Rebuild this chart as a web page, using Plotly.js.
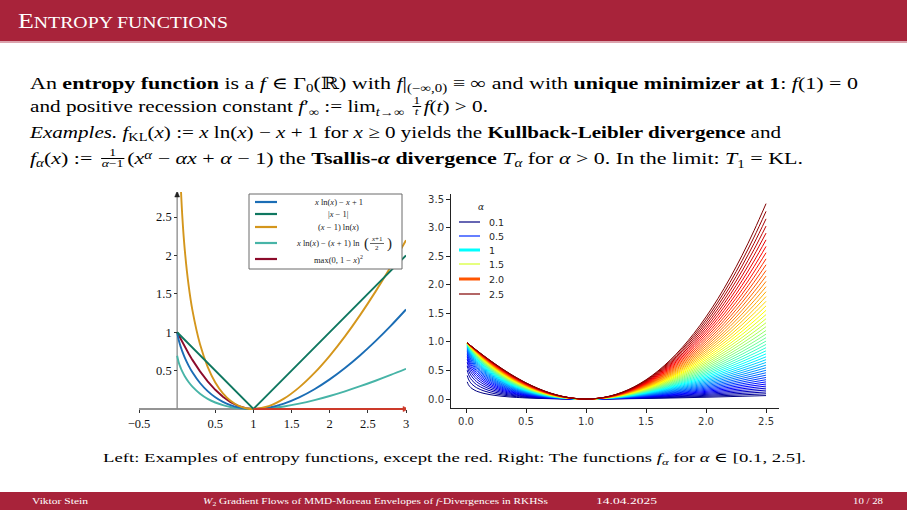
<!DOCTYPE html>
<html><head><meta charset="utf-8">
<script src="https://cdn.plot.ly/plotly-3.0.1.min.js"></script>
<style>
html,body{margin:0;padding:0;width:907px;height:510px;overflow:hidden;background:#fff;}
#plot{position:absolute;left:0;top:0;width:907px;height:510px;z-index:1;}
.hdr{position:absolute;left:0;top:0;width:907px;height:41px;background:#a8233a;z-index:2;}
.hdr2{position:absolute;left:0;top:41px;width:907px;height:2px;background:#dba3ad;z-index:2;}
.ftr{position:absolute;left:0;top:492px;width:907px;height:18px;background:#a8233a;z-index:2;}
.fit{position:absolute;white-space:nowrap;transform-origin:0 0;z-index:3;font-family:'Liberation Serif','DejaVu Serif',serif;}
.ttl{color:#fff;top:11px;line-height:21px;}
.ttl .big{font-size:21px;} .ttl .sm{font-size:16px;}
.ln{font-size:17px;line-height:17px;color:#000;}
.cap{font-size:13.5px;line-height:14px;color:#000;top:451px;}
.ft{font-size:9px;line-height:10px;color:#fff;top:496px;}
sub{font-size:0.68em;vertical-align:-0.3em;line-height:0;}
sup{font-size:0.68em;vertical-align:0.45em;line-height:0;}
.fr{display:inline-block;vertical-align:middle;text-align:center;font-size:10.5px;line-height:10px;margin:0 2px;position:relative;top:-2px;}
.fr>span{display:block;padding:0 1px;}
.fr>span.n{border-bottom:0.8px solid #000;}
</style></head>
<body>
<div id="plot"></div>
<div class="hdr"></div><div class="hdr2"></div>
<div class="fit ttl" data-l="18" data-w="210"><span class="big">E</span><span class="sm">NTROPY FUNCTIONS</span></div>

<div class="fit ln" data-l="30" data-w="828" style="top:75px">An <b>entropy function</b> is a <i>f</i> ∈ Γ<sub>0</sub>(ℝ) with <i>f</i>|<sub>(−∞,0)</sub> ≡ ∞ and with <b>unique minimizer at 1</b>: <i>f</i>(1) = 0</div>
<div class="fit ln" data-l="30" data-w="458" style="top:98px">and positive recession constant <i>f</i>′<sub>∞</sub> := lim<sub><i>t</i>→∞</sub> <span class="fr"><span class="n">1</span><span><i>t</i></span></span><i>f</i>(<i>t</i>) &gt; 0.</div>
<div class="fit ln" data-l="30" data-w="751" style="top:124px"><i>Examples.</i> <i>f</i><sub>KL</sub>(<i>x</i>) := <i>x</i> ln(<i>x</i>) − <i>x</i> + 1 for <i>x</i> ≥ 0 yields the <b>Kullback-Leibler divergence</b> and</div>
<div class="fit ln" data-l="30" data-w="773" style="top:150px"><i>f<sub>α</sub></i>(<i>x</i>) := <span class="fr"><span class="n">1</span><span><i>α</i>−1</span></span>(<i>x<sup>α</sup></i> − <i>αx</i> + <i>α</i> − 1) the <b>Tsallis-<i>α</i> divergence</b> <i>T<sub>α</sub></i> for <i>α</i> &gt; 0. In the limit: <i>T</i><sub>1</sub> = KL.</div>

<div class="fit cap" data-l="103" data-w="703">Left: Examples of entropy functions, except the red. Right: The functions <i>f<sub>α</sub></i> for <i>α</i> ∈ [0.1, 2.5].</div>

<div class="ftr"></div>
<div class="fit ft" data-l="32" data-w="56">Viktor Stein</div>
<div class="fit ft" data-l="203" data-w="345"><i>W</i><sub>2</sub> Gradient Flows of MMD-Moreau Envelopes of <i>f</i>-Divergences in RKHSs</div>
<div class="fit ft" data-l="596" data-w="61">14.04.2025</div>
<div class="fit ft" data-l="853" data-w="30">10 / 28</div>

<script>
// ---------------- data: left panel ----------------
const leftX   = [0,0.02,0.04,0.05,0.07,0.1,0.15,0.2,0.3,0.4,0.5,0.6,0.7,0.8,0.9,1.0,1.2,1.4,1.6,1.8,2.0,2.2,2.4,2.6,2.8,3.0];
const klVals  = [1,0.9018,0.8312,0.8002,0.7438,0.6697,0.5654,0.4781,0.3388,0.2335,0.1534,0.0935,0.0503,0.0215,0.0052,0,0.0188,0.0711,0.1520,0.2580,0.3863,0.5346,0.7011,0.8843,1.0829,1.2958];
const absVals = [1,0.98,0.96,0.95,0.93,0.9,0.85,0.8,0.7,0.6,0.5,0.4,0.3,0.2,0.1,0,0.2,0.4,0.6,0.8,1.0,1.2,1.4,1.6,1.8,2.0];
const jefVals = [null,null,3.090,2.846,2.473,2.0723,1.6125,1.2876,0.8428,0.5498,0.3466,0.2043,0.1070,0.0446,0.0105,0,0.0365,0.1346,0.2820,0.4702,0.6931,0.9462,1.2257,1.5288,1.8533,2.1972];
const jsVals  = [0.6931,0.6086,0.5513,0.5268,0.4831,0.4273,0.3518,0.2911,0.1988,0.1328,0.0849,0.0505,0.0266,0.0111,0.0027,0,0.0091,0.0335,0.0698,0.1159,0.1699,0.2306,0.2970,0.3683,0.4437,0.5232];
const sqVals  = [1,0.9604,0.9216,0.9025,0.8649,0.81,0.7225,0.64,0.49,0.36,0.25,0.16,0.09,0.04,0.01,0,0,0,0,0,0,0,0,0,0,0];
const leftXTicks = [-0.5,0.5,1,1.5,2,2.5,3];
const leftXTickText = ['−0.5','0.5','1','1.5','2','2.5','3'];
const leftYTicks = [0.5,1,1.5,2,2.5];
const leftYTickText = ['0.5','1','1.5','2','2.5'];

// ---------------- data: right panel (Tsallis family f_alpha, as stated on the slide) ----------------
const alphas = [0.10,0.15,0.20,0.25,0.30,0.35,0.40,0.45,0.50,0.55,0.60,0.65,0.70,0.75,0.80,0.85,0.90,0.95,1.00,
                1.05,1.10,1.15,1.20,1.25,1.30,1.35,1.40,1.45,1.50,1.55,1.60,1.65,1.70,1.75,1.80,1.85,1.90,1.95,
                2.00,2.05,2.10,2.15,2.20,2.25,2.30,2.35,2.40,2.45,2.50];
const rightX = [0.01,0.02,0.03,0.05,0.075,0.1,0.15,0.2,0.25,0.3,0.35,0.4,0.5,0.6,0.7,0.8,0.9,1.0,1.1,1.2,1.3,1.4,1.5,1.6,1.7,1.8,1.9,2.0,2.1,2.2,2.3,2.4,2.5];
const rightXTicks = [0,0.5,1,1.5,2,2.5];
const rightXTickText = ['0.0','0.5','1.0','1.5','2.0','2.5'];
const rightYTicks = [0,0.5,1,1.5,2,2.5,3,3.5];
const rightYTickText = ['0.0','0.5','1.0','1.5','2.0','2.5','3.0','3.5'];
const legendAlphas = ['0.1','0.5','1','1.5','2.0','2.5'];
const legendAlphaVals = [0.1,0.5,1.0,1.5,2.0,2.5];

// ---------------- styling ----------------
const W=907, H=510;
const PX = v => v/W, PY = v => 1 - v/H;
const C = {kl:'#1b6db5', abs:'#0f7760', jef:'#d4961c', js:'#47b4a7', sq:'#8c0b2b', red:'#cc3a2a'};
function jet(t){
  const c = v => Math.max(0, Math.min(1, v));
  const r = c(1.5 - Math.abs(4*t-3)), g = c(1.5 - Math.abs(4*t-2)), b = c(1.5 - Math.abs(4*t-1));
  return 'rgb('+Math.round(r*255)+','+Math.round(g*255)+','+Math.round(b*255)+')';
}
function tsallis(a, x){
  return Math.abs(a-1) < 1e-9 ? x*Math.log(x) - x + 1 : (Math.pow(x,a) - a*x + a - 1)/(a-1);
}

const traces = [];
const lw = 1.9;
traces.push({x:leftX, y:sqVals,  mode:'lines', line:{color:C.sq,  width:lw, shape:'linear'}, xaxis:'x', yaxis:'y'});
traces.push({x:leftX, y:jsVals,  mode:'lines', line:{color:C.js,  width:lw, shape:'spline'}, xaxis:'x', yaxis:'y'});
traces.push({x:leftX, y:klVals,  mode:'lines', line:{color:C.kl,  width:lw, shape:'spline'}, xaxis:'x', yaxis:'y'});
traces.push({x:leftX, y:jefVals, mode:'lines', line:{color:C.jef, width:lw, shape:'spline'}, xaxis:'x', yaxis:'y'});
traces.push({x:leftX, y:absVals, mode:'lines', line:{color:C.abs, width:lw, shape:'linear'}, xaxis:'x', yaxis:'y'});

const aMin = alphas[0], aMax = alphas[alphas.length-1];
alphas.forEach(a => {
  traces.push({x:rightX, y:rightX.map(x => tsallis(a,x)), mode:'lines',
    line:{color:jet((a-aMin)/(aMax-aMin)), width:1, shape:'spline'}, xaxis:'x2', yaxis:'y2'});
});

const shapes = [
  {type:'line', xref:'x', yref:'y', x0:-0.5, x1:3, y0:0, y1:0, line:{color:'#2a2a2a', width:1.2}, layer:'below'},
  {type:'line', xref:'x', yref:'y', x0:0, x1:0, y0:0, y1:2.80, line:{color:'#8a8a8a', width:1.3}, layer:'below'},
  {type:'line', xref:'x', yref:'y', x0:1, x1:3, y0:0, y1:0, line:{color:C.red, width:2}, layer:'above'},
  {type:'path', xref:'x', yref:'y', xsizemode:'pixel', ysizemode:'pixel', xanchor:3, yanchor:0,
   path:'M3,0 L-3,-2.6 L-3,2.6 Z', fillcolor:C.red, line:{color:C.red, width:0.5}, layer:'above'},
  {type:'path', xref:'x', yref:'y', xsizemode:'pixel', ysizemode:'pixel', xanchor:0, yanchor:2.80,
   path:'M0,3 L-2.4,-3 L2.4,-3 Z', fillcolor:'#222', line:{color:'#222', width:0.5}, layer:'above'},
  {type:'rect', xref:'paper', yref:'paper', x0:PX(249), x1:PX(402), y0:PY(269), y1:PY(194),
   fillcolor:'#ffffff', line:{color:'#6a6a6a', width:1}, layer:'above'}
];
const annotations = [];
const legRows = [
  {y:202, c:C.kl,  t:'<i>x</i> ln(<i>x</i>) − <i>x</i> + 1'},
  {y:214, c:C.abs, t:'|<i>x</i> − 1|'},
  {y:227, c:C.jef, t:'(<i>x</i> − 1) ln(<i>x</i>)'},
  {y:243, c:C.js,  t:null},
  {y:259, c:C.sq,  t:'max(0, 1 − <i>x</i>)<sup>2</sup>'}
];
const lf = {family:'Liberation Serif', size:8.5, color:'#222'};
legRows.forEach(r => {
  shapes.push({type:'line', xref:'paper', yref:'paper', x0:PX(255), x1:PX(277), y0:PY(r.y), y1:PY(r.y),
    line:{color:r.c, width:2.2}, layer:'above'});
  if (r.t) annotations.push({xref:'paper', yref:'paper', x:PX(338), y:PY(r.y), text:r.t, showarrow:false,
    xanchor:'center', yanchor:'middle', font:lf});
});
annotations.push({xref:'paper', yref:'paper', x:PX(362), y:PY(243), text:'<i>x</i> ln(<i>x</i>) − (<i>x</i> + 1) ln', showarrow:false, xanchor:'right', yanchor:'middle', font:lf});
annotations.push({xref:'paper', yref:'paper', x:PX(366), y:PY(243), text:'(', showarrow:false, xanchor:'center', yanchor:'middle', font:{family:'Liberation Serif', size:15, color:'#222'}});
annotations.push({xref:'paper', yref:'paper', x:PX(377), y:PY(239), text:'<i>x</i>+1', showarrow:false, xanchor:'center', yanchor:'middle', font:{family:'Liberation Serif', size:7, color:'#222'}});
annotations.push({xref:'paper', yref:'paper', x:PX(377), y:PY(248), text:'2', showarrow:false, xanchor:'center', yanchor:'middle', font:{family:'Liberation Serif', size:7, color:'#222'}});
annotations.push({xref:'paper', yref:'paper', x:PX(389), y:PY(243), text:')', showarrow:false, xanchor:'center', yanchor:'middle', font:{family:'Liberation Serif', size:15, color:'#222'}});
shapes.push({type:'line', xref:'paper', yref:'paper', x0:PX(370), x1:PX(384), y0:PY(243.5), y1:PY(243.5), line:{color:'#222', width:0.7}, layer:'above'});

annotations.push({xref:'paper', yref:'paper', x:PX(481), y:PY(207), text:'<i>α</i>', showarrow:false, xanchor:'center', yanchor:'middle', font:{family:'DejaVu Serif', size:9, color:'#262626'}});
const legWidths = [1.2,1.2,3,1.2,3,1.2];
const legYs = [222,236,250,264,279,294];
legendAlphas.forEach((lab,i) => {
  shapes.push({type:'line', xref:'paper', yref:'paper', x0:PX(459), x1:PX(480), y0:PY(legYs[i]), y1:PY(legYs[i]),
    line:{color:jet((legendAlphaVals[i]-aMin)/(aMax-aMin)), width:legWidths[i]}, layer:'above'});
  annotations.push({xref:'paper', yref:'paper', x:PX(487), y:PY(legYs[i]), text:lab, showarrow:false,
    xanchor:'left', yanchor:'middle', font:{family:'DejaVu Sans', size:9.5, color:'#262626'}});
});

const serifTick = {family:'Liberation Serif', size:12.5, color:'#111'};
const sansTick = {family:'DejaVu Sans', size:10, color:'#333'};
const layout = {
  width:W, height:H, margin:{l:0,r:0,t:0,b:0},
  paper_bgcolor:'rgba(0,0,0,0)', plot_bgcolor:'rgba(0,0,0,0)', showlegend:false,
  xaxis:{domain:[PX(139),PX(406)], range:[-0.5,3], anchor:'free', position:PY(409),
    tickmode:'array', tickvals:leftXTicks, ticktext:leftXTickText, ticks:'outside', ticklen:3, tickwidth:1, tickcolor:'#333',
    showgrid:false, zeroline:false, showline:false, tickfont:serifTick, fixedrange:true},
  yaxis:{domain:[PY(416.7),PY(192)], range:[-0.1,2.826], anchor:'free', position:PX(177.14),
    tickmode:'array', tickvals:leftYTicks, ticktext:leftYTickText, ticks:'outside', ticklen:3, tickwidth:1, tickcolor:'#333',
    showgrid:false, zeroline:false, showline:false, tickfont:serifTick, fixedrange:true},
  xaxis2:{domain:[PX(451),PX(779)], range:[-0.125,2.608], anchor:'y2',
    tickmode:'array', tickvals:rightXTicks, ticktext:rightXTickText, ticks:'outside', ticklen:4, tickwidth:1, tickcolor:'#222',
    showline:true, linecolor:'#222', linewidth:1, showgrid:false, zeroline:false, tickfont:sansTick, fixedrange:true},
  yaxis2:{domain:[PY(408),PY(194)], range:[-0.1575,3.59], anchor:'x2',
    tickmode:'array', tickvals:rightYTicks, ticktext:rightYTickText, ticks:'outside', ticklen:4, tickwidth:1, tickcolor:'#222',
    showline:true, linecolor:'#222', linewidth:1, showgrid:false, zeroline:false, tickfont:sansTick, fixedrange:true},
  shapes:shapes, annotations:annotations
};
Plotly.newPlot('plot', traces, layout, {staticPlot:true, displayModeBar:false});

function fit(){
  document.querySelectorAll('.fit').forEach(el => { el.style.transform='none'; el.style.left = el.dataset.l+'px'; });
  document.querySelectorAll('.fit[data-w]').forEach(el => {
    const w = el.getBoundingClientRect().width;
    el.style.transform = 'scaleX('+(parseFloat(el.dataset.w)/w)+')';
  });
}
fit();
if (document.fonts && document.fonts.ready) document.fonts.ready.then(fit);
</script>
</body></html>
